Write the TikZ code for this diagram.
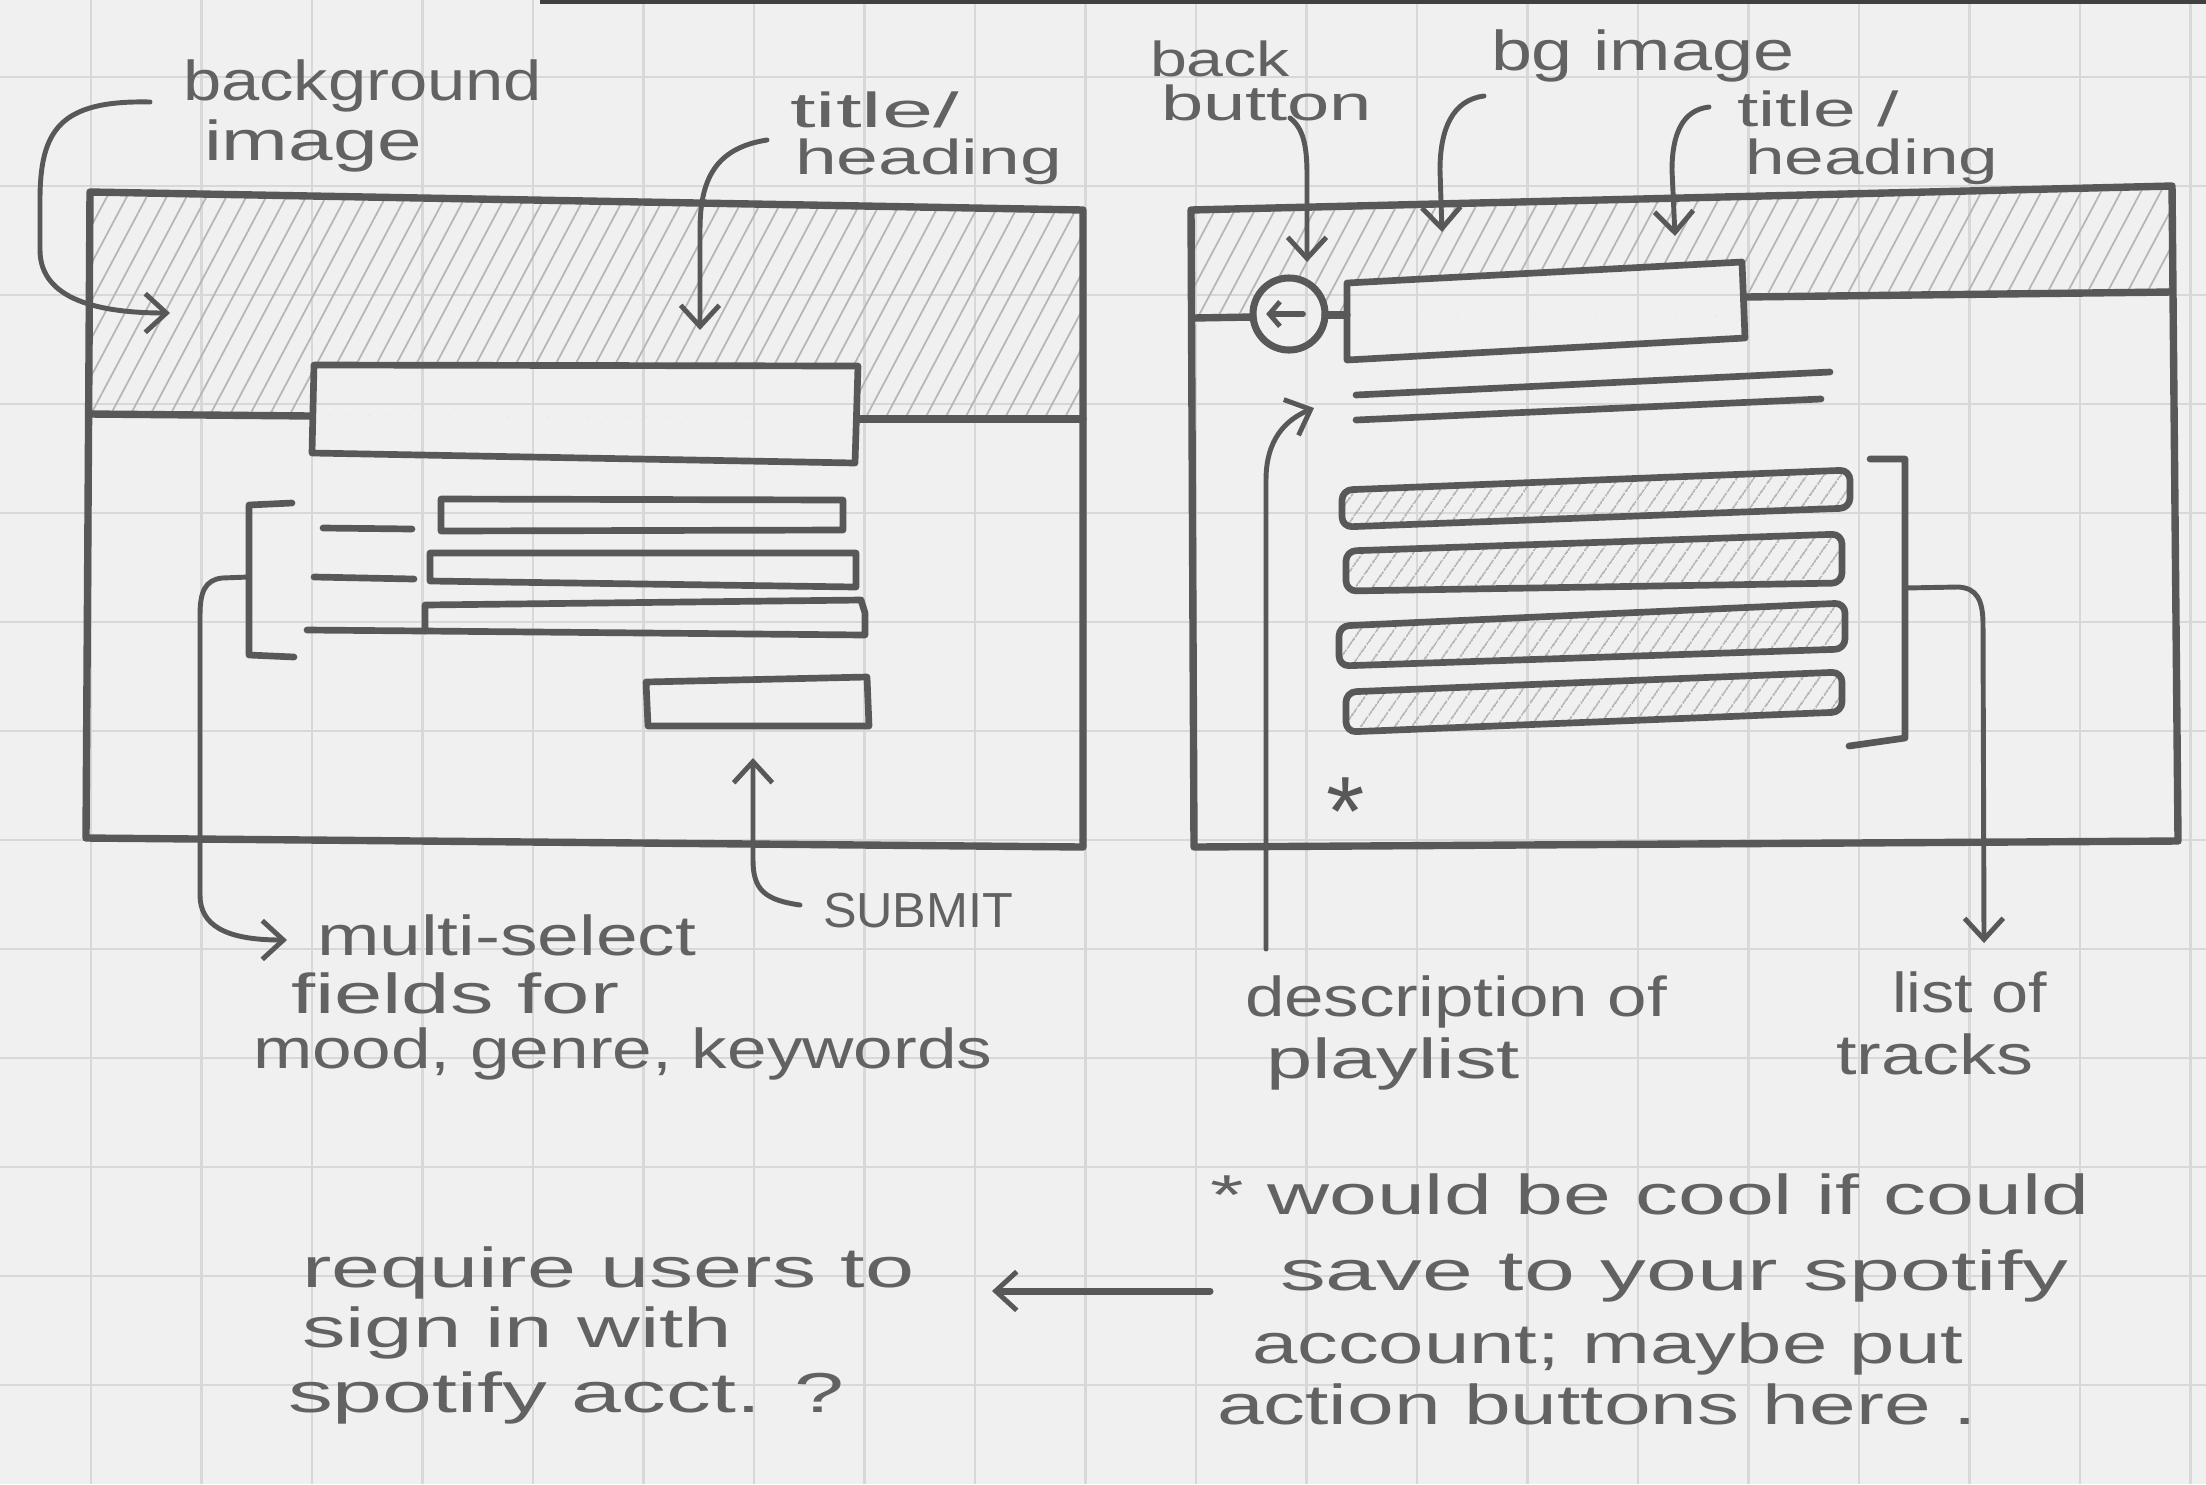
\documentclass[tikz,border=0pt]{standalone}
\usepackage{fontspec}
\setmainfont{Liberation Sans}
\usepackage{graphicx}
\usetikzlibrary{patterns.meta,arrows.meta}

\definecolor{paper}{HTML}{F0F0F0}
\definecolor{gridline}{HTML}{D8D8D8}
\definecolor{pencil}{HTML}{585858}
\definecolor{lettering}{HTML}{626262}
\definecolor{shade}{HTML}{B6B6B6}

% stretch a handwritten line to a given width, keeping its height
\newcommand{\fitw}[2]{\resizebox{#1}{\height}{#2}}

\tikzset{
  px/.style={x={(0.01cm,0)}, y={(0,-0.01cm)}},
  frame/.style={draw=pencil, line width=2.1pt, line join=round, line cap=round},
  field/.style={draw=pencil, line width=1.9pt, line join=round, line cap=round},
  lead/.style={draw=pencil, line width=1.4pt, line cap=round,
    -{Straight Barb[length=6pt,width=11pt,line width=1.4pt]}},
  note/.style={text=lettering, font=\fontsize{16}{19}\selectfont, anchor=base west,
    inner sep=0pt, outer sep=0pt},
  smallnote/.style={note, font=\fontsize{14}{17}\selectfont},
  hatch/.style={pattern={Lines[angle=62,distance=5pt,line width=0.5pt]}, pattern color=shade},
  rowhatch/.style={pattern={Lines[angle=55,distance=4pt,line width=0.5pt]}, pattern color=shade},
}

\begin{document}
\begin{tikzpicture}[px]
% paper
\fill[paper] (0,0) rectangle (2206,1484);
\useasboundingbox (0,0) rectangle (2206,1484);
\foreach \i in {0,...,19}
  \draw[gridline, line width=0.8pt] ({91+110.5*\i},0) -- ({91+110.5*\i},1484);
\foreach \j in {0,...,12}
  \draw[gridline, line width=0.8pt] (0,{77+109*\j}) -- (2206,{77+109*\j});
\fill[black!75] (540,0) rectangle (2206,4);

% ---------- left screen: search form ----------
\begin{scope}
  \clip (90,193) -- (1083,210) -- (1083,419) -- (90,414) -- cycle;
  \path[hatch, even odd rule] (90,193) -- (1083,210) -- (1083,419) -- (90,414) -- cycle
    (314,365) -- (858,366) -- (855,463) -- (312,453) -- cycle;
\end{scope}
\draw[frame] (90,192) -- (1083,210) -- (1083,847) -- (86,838) -- cycle;
\draw[frame] (90,414) -- (312,416);
\draw[frame] (858,419) -- (1083,419);
% title box
\draw[field] (314,365) -- (858,366) -- (855,463) -- (312,453) -- cycle;
% field labels
\draw[field] (323,528) -- (412,529);
\draw[field] (314,577) -- (414,579);
\draw[field] (307,630) -- (425,631);
% select fields
\draw[field] (441,499) -- (843,500) -- (843,530) -- (441,531) -- cycle;
\draw[field] (430,553) -- (856,553) -- (856,587) -- (430,581) -- cycle;
\draw[field] (425,631) -- (425,605) -- (861,600) -- (865,613) -- (865,635) -- (425,631);
% submit button
\draw[field] (646,682) -- (867,677) -- (869,726) -- (648,726) -- cycle;
% bracket round the fields
\draw[field] (292,503) -- (249,505) -- (249,655) -- (294,657);

% ---------- right screen: playlist ----------
\begin{scope}
  \clip (1191,210) -- (2172,186) -- (2172,293) -- (1745,297) -- (1745,316) -- (1193,318) -- cycle;
  \path[hatch, even odd rule]
    (1191,210) -- (2172,186) -- (2172,293) -- (1745,297) -- (1745,316) -- (1193,318) -- cycle
    (1289,314) circle[radius=0.36cm]
    (1347,283) -- (1742,262) -- (1745,338) -- (1347,360) -- cycle;
\end{scope}
\draw[frame] (1191,210) -- (2172,186) -- (2178,841) -- (1194,847) -- cycle;
\draw[frame] (1193,318) -- (1253,317);
\draw[frame] (1325,315) -- (1347,315);
\draw[frame] (1745,297) -- (2172,292);
% back button
\node[draw=pencil, line width=2pt, circle, minimum size=0.72cm, inner sep=0pt] (backbtn) at (1289,314) {};
\draw[pencil, line width=1.6pt, line cap=round, -{Straight Barb[length=3pt,width=7pt,line width=1.4pt]}]
  ([xshift=4pt]backbtn.center) -- ([xshift=-6.5pt]backbtn.center);
% title box and description lines
\draw[field] (1347,283) -- (1742,262) -- (1745,338) -- (1347,360) -- cycle;
\draw[field] (1356,395) -- (1830,372);
\draw[field] (1356,420) -- (1821,399);
% track rows
\draw[field, rowhatch, rounded corners=0.1cm] (1342,490) -- (1850,470) -- (1850,508) -- (1342,527) -- cycle;
\draw[field, rowhatch, rounded corners=0.1cm] (1346,551) -- (1842,534) -- (1842,583) -- (1346,591) -- cycle;
\draw[field, rowhatch, rounded corners=0.1cm] (1339,626) -- (1845,603) -- (1845,649) -- (1339,666) -- cycle;
\draw[field, rowhatch, rounded corners=0.1cm] (1346,692) -- (1842,672) -- (1842,712) -- (1346,732) -- cycle;
\draw[field] (1870,459) -- (1905,459) -- (1905,738) -- (1849,746);
\node[text=pencil, font=\fontsize{28}{28}\selectfont, inner sep=0pt, anchor=base] (star) at (1346,845) {*};

% ---------- notes ----------
\node[note] (bgnote)   at (183,100)  {\fitw{3.59cm}{background}};
\node[note] (bgnote2)  at (204,160)  {\fitw{2.18cm}{image}};
\node[smallnote] (tl1) at (790,127)  {\fitw{1.69cm}{title/}};
\node[smallnote] (tl2) at (795,174)  {\fitw{2.67cm}{heading}};
\node[smallnote] (backl1) at (1150,76)  {\fitw{1.40cm}{back}};
\node[smallnote] (backl2) at (1161,120) {\fitw{2.11cm}{button}};
\node[note] (bgimg)    at (1491,70)  {\fitw{3.03cm}{bg image}};
\node[smallnote] (tr1) at (1737,126) {\fitw{1.62cm}{title /}};
\node[smallnote] (tr2) at (1745,174) {\fitw{2.53cm}{heading}};
\node[note, font=\fontsize{14}{17}\selectfont] (submit) at (823,927) {\fitw{1.90cm}{SUBMIT}};
\node[note] (ms1)      at (317,955)  {\fitw{3.79cm}{multi-select}};
\node[note] (ms2)      at (291,1013) {\fitw{3.28cm}{fields for}};
\node[note] (ms3)      at (253,1068) {\fitw{7.39cm}{mood, genre, keywords}};
\node[note] (desc1)    at (1245,1016) {\fitw{4.22cm}{description of}};
\node[note] (desc2)    at (1266,1078) {\fitw{2.54cm}{playlist}};
\node[note] (trk1)     at (1892,1012) {\fitw{1.55cm}{list of}};
\node[note] (trk2)     at (1836,1074) {\fitw{1.97cm}{tracks}};
\node[note] (save1)    at (1210,1214) {\fitw{8.79cm}{* would be cool if could}};
\node[note] (save2)    at (1280,1290) {\fitw{7.88cm}{save to your spotify}};
\node[note] (save3)    at (1252,1363) {\fitw{7.11cm}{account; maybe put}};
\node[note] (save4)    at (1217,1424) {\fitw{7.60cm}{action buttons here .}};
\node[note] (req1)     at (302,1287) {\fitw{6.12cm}{require users to}};
\node[note] (req2)     at (302,1347) {\fitw{4.30cm}{sign in with}};
\node[note] (req3)     at (288,1412) {\fitw{5.56cm}{spotify acct. ?}};

% ---------- leader arrows ----------
\coordinate (bgtail)  at (150,102);
\coordinate (bgtip)   at (170,313);
\coordinate (tltail)  at (767,140);
\coordinate (tltip)   at (700,330);
\coordinate (subtail) at (800,905);
\coordinate (subtip)  at (753,758);
\coordinate (mstip)   at (287,940);
\coordinate (backtail) at (1290,118);
\coordinate (backtip) at (1307,262);
\coordinate (imgtail) at (1484,96);
\coordinate (imgtip)  at (1442,232);
\coordinate (trtail)  at (1709,107);
\coordinate (trtip)   at (1675,236);
\coordinate (desctail) at (1266,949);
\coordinate (desctip) at (1314,408);
\coordinate (trktip)  at (1984,943);
\coordinate (notetail) at (1210,1291);
\coordinate (notetip) at (992,1291);

\draw[lead] (bgtail) .. controls (60,100) and (40,130) .. (40,200)
  -- (40,250) .. controls (40,300) and (100,313) .. (bgtip);
\draw[lead] (tltail) .. controls (715,148) and (700,180) .. (700,230) -- (tltip);
\draw[lead] (subtail) .. controls (765,900) and (753,890) .. (753,860) -- (subtip);
\draw[lead] (249,577) -- (222,578) .. controls (205,580) and (200,592) .. (200,615)
  -- (200,895) .. controls (200,925) and (225,940) .. (mstip);
\draw[lead] (backtail) .. controls (1303,128) and (1307,145) .. (1307,175) -- (backtip);
\draw[lead] (imgtail) .. controls (1452,100) and (1440,130) .. (1440,170) -- (imgtip);
\draw[lead] (trtail) .. controls (1682,110) and (1672,135) .. (1672,170) -- (trtip);
\draw[lead] (desctail) -- (1266,480) .. controls (1266,440) and (1285,420) .. (desctip);
\draw[lead] (1905,588) -- (1958,587) .. controls (1977,588) and (1983,600) .. (1983,625) -- (trktip);
\draw[lead, line width=2pt] (notetail) -- (notetip);
\end{tikzpicture}
\end{document}
